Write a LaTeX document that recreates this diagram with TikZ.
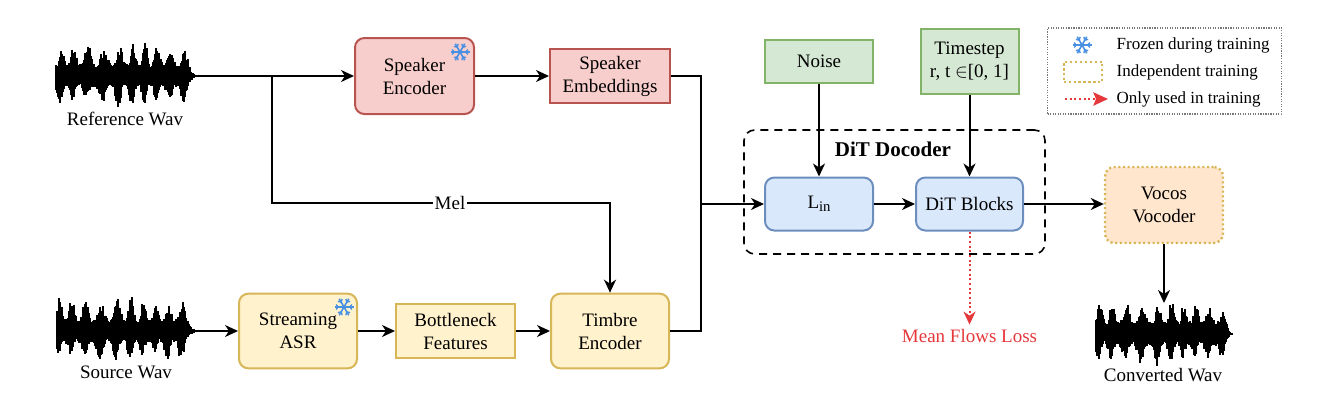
\documentclass[tikz,border=0pt]{standalone}
\usepackage{fontspec}
\setmainfont{Liberation Serif}
\usetikzlibrary{arrows.meta}
\definecolor{redF}{HTML}{F8CECC}\definecolor{redD}{HTML}{B85450}
\definecolor{yelF}{HTML}{FFF2CC}\definecolor{yelD}{HTML}{D6B656}
\definecolor{grnF}{HTML}{D5E8D4}\definecolor{grnD}{HTML}{82B366}
\definecolor{bluF}{HTML}{DAE8FC}\definecolor{bluD}{HTML}{6C8EBF}
\definecolor{orgF}{HTML}{FFE6CC}
\definecolor{snowc}{HTML}{4A90E2}
\definecolor{lossc}{HTML}{E5383B}
\definecolor{legd}{HTML}{777777}
\newcommand{\drawwave}[5]{% x0, y0, width, seed, phase
  \pgfmathsetseed{#4}%
  \foreach \i in {0,...,#3}{%
    \pgfmathsetmacro\f{min(1,(#3-\i)/14+0.05)}%
    \pgfmathsetmacro\tp{(11+20*pow(abs(sin(13*\i+30*sin(4*\i)+#5)),3)*(0.55+0.45*abs(sin(3*\i+#5))))*(0.7+0.45*rnd)*\f}%
    \pgfmathsetmacro\bt{(10+18*pow(abs(sin(13*\i+30*sin(4*\i)+#5+20)),3)*(0.55+0.45*abs(cos(2.5*\i+#5))))*(0.7+0.45*rnd)*\f}%
    \draw[line width=0.95pt] (#1+\i,#2-\tp) -- (#1+\i,#2+\bt);
  }}
\tikzset{
  snowflake/.pic={
    \foreach \a in {0,60,120}{\draw[snowc, line width=1.2pt] (\a:-9.5) -- (\a:9.5);}
    \foreach \a in {0,60,...,300}{\draw[snowc, line width=1pt] (\a:5.5) -- ++(\a+45:3.5) (\a:5.5) -- ++(\a-45:3.5);}
  }
}
\begin{document}
\begin{tikzpicture}[x=0.75pt,y=-0.75pt,
  font=\fontsize{14.25}{17.25}\selectfont,
  box/.style={draw, line width=1.5pt, align=center, inner sep=1pt},
  rbox/.style={box, rounded corners=7pt},
  arr/.style={line width=1.5pt, -{Stealth[length=9.75pt,width=9pt,inset=3pt]}},
  ln/.style={line width=1.5pt},
  trainarr/.style={lossc, dotted, line width=1.5pt, -{Stealth[length=9.75pt,width=9pt,inset=3pt]}},
  legarr/.style={lossc, dotted, line width=1.5pt, -{Stealth[length=11pt,width=10pt,inset=2pt]}},
  legtext/.style={anchor=west, font=\fontsize{12.75}{15}\selectfont}]
\useasboundingbox (0,0) rectangle (1332,415);

% waveforms
\drawwave{56}{76}{140}{11}{10}
\drawwave{57}{331}{138}{27}{50}
\drawwave{1096}{334}{136}{53}{30}
\coordinate (refout) at (196,76);
\coordinate (srcout) at (195,331);
\coordinate (convin) at (1164,303);
\node (reflabel) at (125,119) {Reference Wav};
\node (srclabel) at (126,372) {Source Wav};
\node (convlabel) at (1163,375) {Converted Wav};

% dashed DiT box
\node[draw, dash pattern=on 6pt off 4.5pt, rounded corners=8pt, line width=1.2pt,
      minimum width=225.75pt, minimum height=93pt] (ditbox) at (894.5,192) {};
\node[font=\fontsize{15.75}{18}\selectfont\bfseries] (dittitle) at (893,149) {DiT Docoder};

% boxes
\node[rbox, fill=redF, draw=redD, minimum width=89.25pt, minimum height=57pt] (spkenc) at (414.5,76) {Speaker\\Encoder};
\node[box, fill=redF, draw=redD, minimum width=90pt, minimum height=40.5pt] (spkemb) at (610,76) {Speaker\\Embeddings};
\node[rbox, fill=yelF, draw=yelD, minimum width=88.5pt, minimum height=56pt] (asr) at (298,331) {Streaming\\ASR};
\node[box, fill=yelF, draw=yelD, minimum width=89.25pt, minimum height=40.5pt] (bnf) at (455.5,331) {Bottleneck\\Features};
\node[rbox, fill=yelF, draw=yelD, minimum width=88.5pt, minimum height=56pt] (timbre) at (610,331) {Timbre\\Encoder};
\node[box, fill=grnF, draw=grnD, minimum width=81pt, minimum height=32.25pt] (noise) at (819,61.5) {Noise};
\node[box, fill=grnF, draw=grnD, minimum width=73.5pt, minimum height=48.75pt] (tstep) at (969.5,61.5) {Timestep\\r, t $\in$[0, 1]};
\node[rbox, fill=bluF, draw=bluD, minimum width=81pt, minimum height=39.75pt] (lin) at (819,204) {L\raisebox{-0.35ex}{\fontsize{11}{12}\selectfont in}};
\node[rbox, fill=bluF, draw=bluD, minimum width=80.25pt, minimum height=39.75pt] (dit) at (969.5,204) {DiT Blocks};
\node[rbox, fill=orgF, draw=yelD, dotted, line width=1.8pt, minimum width=88.5pt, minimum height=57pt] (voc) at (1164,205) {Vocos\\Vocoder};

\pic at (460,52) {snowflake};
\pic at (344,307) {snowflake};

% connectors
\coordinate (br) at (272,76);
\coordinate (melturn) at (610,203);
\coordinate (merge) at (701,204);
\draw[ln] (refout) -- (br);
\draw[arr] (br) -- (spkenc.west);
\draw[arr] (br) |- (melturn) -- (timbre.north);
\node[fill=white, inner sep=1pt] (mel) at (450,203) {Mel};
\draw[arr] (spkenc) -- (spkemb);
\draw[ln] (spkemb.east) -| (merge);
\draw[ln] (timbre.east) -| (merge);
\draw[arr] (merge) -- (lin.west);
\draw[arr] (srcout) -- (asr.west);
\draw[arr] (asr) -- (bnf);
\draw[arr] (bnf) -- (timbre);
\draw[arr] (noise.south) -- (lin.north);
\draw[arr] (tstep.south) -- (dit.north);
\draw[arr] (lin) -- (dit);
\draw[arr] (dit.east) -- (dit.east -| voc.west);
\draw[arr] (voc.south) -- (convin);
\node[text=lossc] (loss) at (969.5,336) {Mean Flows Loss};
\draw[trainarr] (dit.south) -- (loss.north);

% legend
\node[draw=legd, densely dotted, line width=0.9pt, minimum width=175.5pt, minimum height=64.5pt] (legend) at (1164.5,71) {};
\pic at (1082,45) {snowflake};
\node[legtext] (lg1) at (1112,45) {Frozen during training};
\node[draw=yelD, dotted, line width=1.7pt, fill=white, minimum width=29pt, minimum height=15pt, inner sep=0pt] (lgbox) at (1083,72) {};
\node[legtext] (lg2) at (1112,72) {Independent training};
\coordinate (lga) at (1065,99);
\coordinate (lgb) at (1108,99);
\draw[legarr] (lga) -- (lgb);
\node[legtext] (lg3) at (1112,99) {Only used in training};
\end{tikzpicture}
\end{document}
